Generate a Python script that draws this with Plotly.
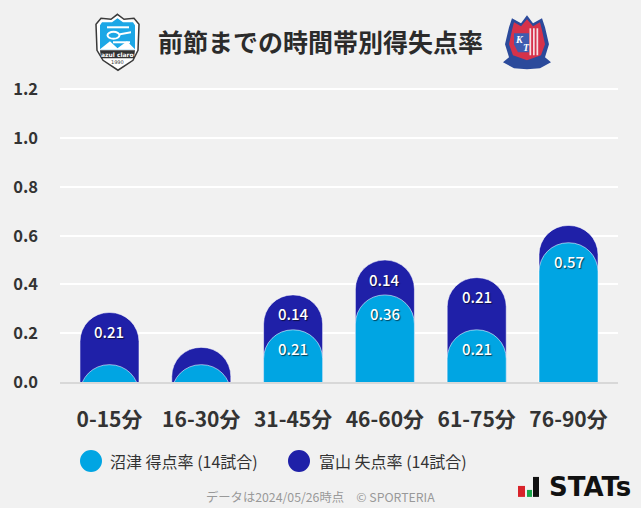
import plotly.graph_objects as go

categories = ["0-15分", "16-30分", "31-45分", "46-60分", "61-75分", "76-90分"]
home_rate = [0.071, 0.071, 0.214, 0.357, 0.214, 0.571]
away_rate = [0.214, 0.071, 0.143, 0.143, 0.214, 0.071]
home_labels = [None, None, "0.21", "0.36", "0.21", "0.57"]
away_labels = ["0.21", None, "0.14", "0.14", "0.21", None]
y_ticks = [0.0, 0.2, 0.4, 0.6, 0.8, 1.0, 1.2]
title = "前節までの時間帯別得失点率"
home_name = "沼津 得点率 (14試合)"
away_name = "富山 失点率 (14試合)"
note = "データは2024/05/26時点　© SPORTERIA"

FONT = "Noto Sans CJK JP"
BLUE = "#00a5e3"
NAVY = "#1f20a8"
W, H = 641, 508
L, R, T, B = 60, 618, 86.76, 382
Y_MAX = 1.21
BELOW = 0.3  # bars start below the axis so the full dome is kept and the axis clips it


def px(x):
    return (x - L) / (R - L)


def py(y):
    return (B - y) / (B - T)


def path(points):
    return "M " + " L ".join(f"{px(x):.4f},{py(y):.4f}" for x, y in points) + " Z"


fig = go.Figure()
totals = [round(a + b, 3) for a, b in zip(home_rate, away_rate)]
edge = dict(color="rgba(255,255,255,0.55)", width=1)
fig.add_bar(x=categories, y=[v + BELOW for v in totals], base=-BELOW,
            marker=dict(color=NAVY, line=edge), showlegend=False)
fig.add_bar(x=categories, y=[v + BELOW for v in home_rate], base=-BELOW,
            marker=dict(color=BLUE, line=edge), showlegend=False, xaxis="x2", yaxis="y2")

annotations = []
label_font = dict(family=FONT, size=15, color="white", weight=500, shadow="1px 1px 1px rgba(0,0,0,0.6)")
for cat, t, lab in zip(categories, totals, away_labels):
    if lab:
        annotations.append(dict(x=cat, y=t, yshift=-19, text=lab, showarrow=False, yanchor="middle", font=label_font))
for cat, t, lab in zip(categories, home_rate, home_labels):
    if lab:
        annotations.append(dict(x=cat, y=t, yshift=-19, text=lab, showarrow=False, yanchor="middle", font=label_font))


def paper_text(x, y, text, size, color, anchor="left", weight=400, family=FONT, style="normal"):
    annotations.append(dict(xref="paper", yref="paper", x=px(x), y=py(y), text=text, showarrow=False,
                            xanchor=anchor, yanchor="middle", xshift=0, yshift=0, borderpad=0, borderwidth=0,
                            font=dict(family=family, size=size, color=color, weight=weight, style=style)))


paper_text(320, 41, title, 25, "#2b2b2b", "center", 700)
paper_text(110, 461, home_name, 16, "#333333")
paper_text(319, 461, away_name, 16, "#333333")
paper_text(320, 497, note, 12.3, "#999999", "center")
paper_text(549, 487, "STATs", 26, "#111111", "left", 700, "DejaVu Sans")

shapes = []


def poly(points, fill, line=None, width=0):
    shapes.append(dict(type="path", xref="paper", yref="paper", path=path(points), fillcolor=fill,
                       line=dict(color=line or fill, width=width), layer="above"))


def circle(cx, cy, rx, ry, fill, line=None, width=0):
    shapes.append(dict(type="circle", xref="paper", yref="paper", x0=px(cx - rx), x1=px(cx + rx),
                       y0=py(cy + ry), y1=py(cy - ry), fillcolor=fill, line=dict(color=line or fill, width=width)))


circle(91, 461, 11, 11, BLUE)
circle(299, 461, 11, 11, NAVY)

# Numazu crest
poly([(117.5, 14), (124, 19), (134, 18), (139, 24), (138, 50), (133, 60), (118, 70), (103, 60), (97, 50), (96, 24), (101, 18), (111, 19)],
     "#ffffff", "#3a3a3a", 1.5)
poly([(117.5, 18), (123, 22), (133, 22), (135, 25), (135, 49), (100, 49), (100, 25), (102, 22), (112, 22)], "#1ca7e6")
poly([(100, 49), (110, 41), (117.5, 48), (127, 41), (135, 49)], "#ffffff")
poly([(100, 50), (135, 50), (134, 58), (101, 58)], "#333333")
poly([(107, 26), (129, 26), (129, 28), (107, 28)], "#ffffff")
circle(113.5, 35, 6, 3.5, "rgba(0,0,0,0)", "#ffffff", 2)
poly([(120, 33), (131, 31), (131, 33), (120, 35)], "#ffffff")
poly([(113, 41), (130, 41), (130, 43), (113, 43)], "#ffffff")
paper_text(117.5, 54, "azul claro", 6, "#ffffff", "center", 700, "DejaVu Sans")
paper_text(117.5, 62, "1990", 5, "#333333", "center", 400, "DejaVu Sans")

# Toyama crest
poly([(527, 15), (533, 23), (542, 18), (545, 27), (549, 44), (545, 57), (551, 62), (540, 68), (527, 69), (514, 68), (503, 62), (509, 57), (505, 44), (509, 27), (512, 18), (521, 23)],
     "#2b4a9b")
poly([(527, 19), (533, 26), (540, 22), (542, 30), (545, 44), (541, 55), (527, 60), (513, 55), (509, 44), (512, 30), (514, 22), (521, 26)],
     "#d6324a")
poly([(514, 33), (529, 33), (529, 52), (518, 52), (514, 44)], "#3f5cb0")
for sx in (529.5, 533, 536.5):
    poly([(sx, 28), (sx + 1.7, 28), (sx + 1.7, 55), (sx, 55)], "#f4dfe3")
paper_text(519, 39, "K", 10, "#ffffff", "center", 700, "Liberation Serif", "italic")
paper_text(526, 47, "T", 10, "#ffffff", "center", 700, "Liberation Serif", "italic")

# STATs mark
poly([(518, 486), (525, 486), (525, 497), (518, 497)], "#d8232a")
poly([(527, 490), (532, 490), (532, 497), (527, 497)], "#1aa64b")
poly([(533, 477), (539, 477), (539, 497), (533, 497)], "#111111")

x_range = [-0.539, 5.539]
fig.update_layout(
    width=W, height=H, autosize=False,
    margin=dict(l=L, r=W - R, t=T, b=H - B),
    paper_bgcolor="#f1f1f1", plot_bgcolor="#f1f1f1",
    barmode="overlay", bargap=0.357, barcornerradius=29,
    font=dict(family=FONT),
    showlegend=False,
    annotations=annotations, shapes=shapes,
    xaxis=dict(range=x_range, tickfont=dict(size=21, color="#333333", family=FONT, weight=700), ticks="",
               ticklabelstandoff=18, showgrid=False, showline=True, linecolor="#d8d8d8", linewidth=2),
    yaxis=dict(range=[0, Y_MAX], tickvals=y_ticks, ticktext=[f"{v:.1f}" for v in y_ticks],
               tickfont=dict(size=16.5, color="#333333", family=FONT, weight=700), gridcolor="#ffffff", gridwidth=2,
               zeroline=False, ticks="", ticklabelstandoff=21),
    xaxis2=dict(range=x_range, overlaying="x", visible=False, matches="x"),
    yaxis2=dict(range=[0, Y_MAX], overlaying="y", visible=False),
)
fig.write_html("out.html", config=dict(displayModeBar=False),
               post_script="document.body.style.margin='0';document.body.style.background='#f1f1f1';")
